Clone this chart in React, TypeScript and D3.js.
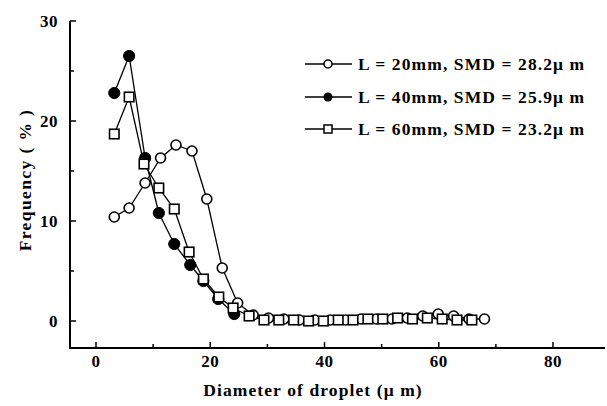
import React from "react";
import * as d3 from "d3";

const xTicksMajor = [0, 20, 40, 60, 80];
const xTicksMinor = [10, 30, 50, 70];
const yTicksMajor = [0, 10, 20, 30];
const yTicksMinor = [5, 15, 25];

const openX = [3.2, 5.8, 8.6, 11.3, 14.0, 16.8, 19.4, 22.1, 24.8, 27.5, 30.2, 32.9, 35.6, 38.3, 41.0, 43.7, 46.4, 49.1, 51.8, 54.5, 57.2, 59.9, 62.6, 65.3, 68.0];
const openY = [10.4, 11.3, 13.8, 16.3, 17.6, 17.0, 12.2, 5.3, 1.8, 0.6, 0.3, 0.2, 0.1, 0.1, 0.1, 0.1, 0.2, 0.2, 0.2, 0.3, 0.5, 0.7, 0.5, 0.2, 0.2];

const filledX = [3.2, 5.8, 8.6, 11.0, 13.7, 16.5, 18.8, 21.4, 24.2];
const filledY = [22.8, 26.5, 16.3, 10.8, 7.7, 5.6, 4.0, 2.2, 0.7];

const squareX = [3.2, 5.8, 8.4, 11.0, 13.7, 16.3, 18.8, 21.5, 24.0, 26.8, 29.4, 32.0, 34.6, 37.2, 39.8, 42.4, 45.0, 47.6, 50.2, 52.8, 55.4, 58.0, 60.6, 63.2, 65.8];
const squareY = [18.7, 22.4, 15.7, 13.3, 11.2, 6.9, 4.2, 2.4, 1.3, 0.5, 0.1, 0.1, 0.1, 0.0, 0.0, 0.1, 0.1, 0.2, 0.2, 0.3, 0.2, 0.3, 0.2, 0.1, 0.1];

const legendLabels = ["L = 20mm, SMD = 28.2\u03bc m", "L = 40mm, SMD = 25.9\u03bc m", "L = 60mm, SMD = 23.2\u03bc m"];

const W = 607;
const H = 406;
const FONT = "'Liberation Serif', 'Times New Roman', serif";

export default function App() {
  const x = d3.scaleLinear().domain([0, 80]).range([96, 553]);
  const y = d3.scaleLinear().domain([0, 30]).range([321, 21]);
  const axisLeft = 70;
  const axisBottom = 348;
  const axisRight = 605;
  const axisTop = 21;

  const line = d3.line<[number, number]>().x((d) => x(d[0])).y((d) => y(d[1]));
  const openPts: [number, number][] = openX.map((v, i) => [v, openY[i]]);
  const filledPts: [number, number][] = filledX.map((v, i) => [v, filledY[i]]);
  const squarePts: [number, number][] = squareX.map((v, i) => [v, squareY[i]]);

  const sw = 1.3;
  const r = 5;
  const s = 9.5;

  const legendY = [64, 97, 129];

  return (
    <svg width={W} height={H} style={{ position: "absolute", left: 0, top: 0, background: "#fff" }}>
      <rect x={0} y={0} width={W} height={H} fill="#fff" />
      <line x1={axisLeft} y1={axisTop} x2={axisLeft} y2={axisBottom} stroke="#000" strokeWidth={2} />
      <line x1={axisLeft - 1} y1={axisBottom} x2={axisRight} y2={axisBottom} stroke="#000" strokeWidth={2} />
      {yTicksMajor.map((t) => (
        <g key={"ym" + t}>
          <line x1={axisLeft} x2={axisLeft + 6} y1={y(t)} y2={y(t)} stroke="#000" strokeWidth={1.5} />
          <text x={58} y={y(t)} textAnchor="end" dominantBaseline="central" fontFamily={FONT} fontWeight="bold" fontSize={17} letterSpacing={0.5}>{t}</text>
        </g>
      ))}
      {yTicksMinor.map((t) => (
        <line key={"yn" + t} x1={axisLeft} x2={axisLeft + 4} y1={y(t)} y2={y(t)} stroke="#000" strokeWidth={1.5} />
      ))}
      {xTicksMajor.map((t) => (
        <g key={"xm" + t}>
          <line x1={x(t)} x2={x(t)} y1={axisBottom} y2={axisBottom - 6} stroke="#000" strokeWidth={1.5} />
          <text x={x(t)} y={361} textAnchor="middle" dominantBaseline="central" fontFamily={FONT} fontWeight="bold" fontSize={17} letterSpacing={0.5}>{t}</text>
        </g>
      ))}
      {xTicksMinor.map((t) => (
        <line key={"xn" + t} x1={x(t)} x2={x(t)} y1={axisBottom} y2={axisBottom - 4} stroke="#000" strokeWidth={1.5} />
      ))}
      <text x={313} y={390} textAnchor="middle" dominantBaseline="central" fontFamily={FONT} fontWeight="bold" fontSize={17.5} letterSpacing={1.1}>Diameter of droplet ({"\u03bc"} m)</text>
      <text transform={`translate(25,180) rotate(-90)`} textAnchor="middle" dominantBaseline="central" fontFamily={FONT} fontWeight="bold" fontSize={17.5} letterSpacing={1.4}>Frequency ( % )</text>

      <path d={line(openPts) || ""} fill="none" stroke="#000" strokeWidth={sw} />
      <path d={line(filledPts) || ""} fill="none" stroke="#000" strokeWidth={sw} />
      <path d={line(squarePts) || ""} fill="none" stroke="#000" strokeWidth={sw} />

      {openPts.map((p, i) => (
        <circle key={"o" + i} cx={x(p[0])} cy={y(p[1])} r={r} fill="#fff" stroke="#000" strokeWidth={1.6} />
      ))}
      {filledPts.map((p, i) => (
        <circle key={"f" + i} cx={x(p[0])} cy={y(p[1])} r={r + 0.6} fill="#000" stroke="#000" strokeWidth={1} />
      ))}
      {squarePts.map((p, i) => (
        <rect key={"s" + i} x={x(p[0]) - s / 2} y={y(p[1]) - s / 2} width={s} height={s} fill="#fff" stroke="#000" strokeWidth={1.6} />
      ))}

      {legendLabels.map((lab, i) => (
        <g key={"lg" + i}>
          <line x1={305} x2={352} y1={legendY[i]} y2={legendY[i]} stroke="#000" strokeWidth={1.3} />
          {i === 0 && <circle cx={328} cy={legendY[i]} r={4} fill="#fff" stroke="#000" strokeWidth={1.5} />}
          {i === 1 && <circle cx={328} cy={legendY[i]} r={4.5} fill="#000" />}
          {i === 2 && <rect x={324} y={legendY[i] - 4} width={8} height={8} fill="#fff" stroke="#000" strokeWidth={1.5} />}
          <text x={358} y={legendY[i]} dominantBaseline="central" fontFamily={FONT} fontWeight="bold" fontSize={17.5} letterSpacing={1.1}>{lab}</text>
        </g>
      ))}
    </svg>
  );
}
